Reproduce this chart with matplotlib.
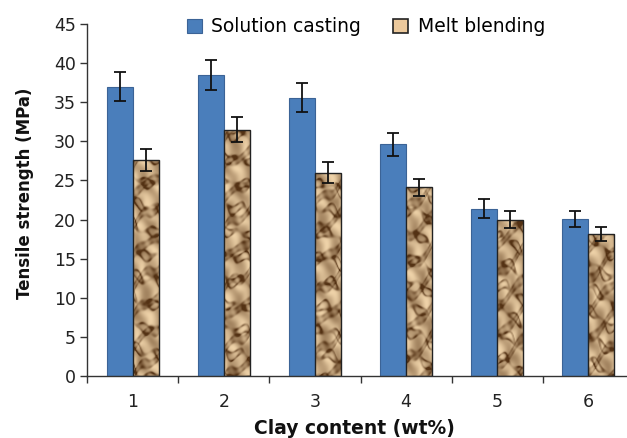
import numpy as np
import matplotlib
matplotlib.use("Agg")
import matplotlib.pyplot as plt
from matplotlib.patches import Patch

# Tensile strength vs clay content for two processing routes
clay_content = [1, 2, 3, 4, 5, 6]
solution_casting = [37.0, 38.5, 35.6, 29.6, 21.4, 20.1]
solution_err = [1.8, 1.9, 1.8, 1.5, 1.2, 1.0]
melt_blending = [27.6, 31.5, 26.0, 24.1, 20.0, 18.1]
melt_err = [1.4, 1.6, 1.3, 1.1, 1.1, 0.9]
y_ticks = [0, 5, 10, 15, 20, 25, 30, 35, 40, 45]

BLUE = "#4a7ebb"
BLUE_EDGE = "#3b6396"
TAN = "#ecc99c"

fig = plt.figure(figsize=(6.27, 4.38), dpi=100)
# axes run slightly past the right border of the figure
ax = fig.add_axes([87 / 627, 62 / 438, 547 / 627, 352 / 438])

x = np.arange(len(clay_content)) + 1.0
w = 0.286

ax.bar(x - w / 2, solution_casting, width=w, color=BLUE, edgecolor=BLUE_EDGE,
       linewidth=0.8, zorder=2)
melt_bars = ax.bar(x + w / 2, melt_blending, width=w, color=TAN,
                   edgecolor="#222222", linewidth=1.0, zorder=2)


def paper_texture(h_units, p):
    """Crumpled-paper shading: broad folds with wavy dark creases."""
    W = 26
    H = max(int(h_units * 7.8), 10)
    yy, xx = np.mgrid[0:H, 0:W].astype(float)
    warp = 3.5 * np.sin(0.19 * xx + 0.9 * p) + 2.0 * np.sin(0.37 * xx - 0.09 * yy + p)
    f1 = np.sin(0.26 * (yy + warp) + 0.12 * xx + p) + 0.5 * np.sin(0.09 * yy - 0.25 * xx + 2 * p)
    f2 = np.sin(0.21 * (yy - warp) - 0.18 * xx + 1.7 + p)
    crease = np.exp(-((f1 - 0.9) ** 2) / 0.10) + 0.7 * np.exp(-((f2 - 0.8) ** 2) / 0.08)
    crease *= 0.5 + 0.5 * np.sin(0.15 * yy + 0.4 * xx + 3 * p) ** 2
    folds = np.sin(0.17 * yy + 0.3 * xx + 0.7 * f2 + p)
    shade = 0.74 + 0.16 * folds - 0.08 * np.cos(0.11 * yy - 0.2 * xx + 2 * p)
    v = np.clip(shade - 0.7 * crease, 0, 1)
    light = np.array([242, 214, 172]) / 255.0
    dark = np.array([84, 50, 20]) / 255.0
    return dark + (light - dark) * v[..., None]


for i, bar in enumerate(melt_bars):
    x0 = bar.get_x()
    x1 = x0 + bar.get_width()
    h = bar.get_height()
    im = ax.imshow(paper_texture(h, 0.9 * i), extent=[x0, x1, 0, h], aspect="auto",
                   origin="lower", zorder=2.5, interpolation="bilinear")
    im.set_clip_path(bar)
    bar.set_zorder(3)
    bar.set_facecolor("none")

ax.errorbar(x - w / 2, solution_casting, yerr=solution_err, fmt="none",
            ecolor="#111111", elinewidth=1.3, capsize=4, capthick=1.3, zorder=4)
ax.errorbar(x + w / 2, melt_blending, yerr=melt_err, fmt="none",
            ecolor="#111111", elinewidth=1.3, capsize=4, capthick=1.3, zorder=4)

ax.set_xlim(0.5, 6.5)
ax.set_ylim(0, 45)
ax.set_yticks(y_ticks)
ax.set_xticks(x)
ax.set_xticklabels([str(c) for c in clay_content])
ax.set_xticks(np.arange(0.5, 7.0, 1.0), minor=True)
ax.tick_params(axis="x", which="major", length=0, pad=12, labelsize=12.5,
               labelcolor="#222222")
ax.tick_params(axis="x", which="minor", length=5, width=1, color="#333333")
ax.tick_params(axis="y", length=5, width=1, color="#333333", labelsize=12.5,
               labelcolor="#222222", pad=3)

for s in ["top", "right"]:
    ax.spines[s].set_visible(False)
for s in ["left", "bottom"]:
    ax.spines[s].set_color("#333333")
    ax.spines[s].set_linewidth(1.0)

fig.text(25 / 627, 1 - 193 / 438, "Tensile strength (MPa)", fontsize=12,
         fontweight="bold", color="#111111", ha="center", va="center",
         rotation=90)
fig.text(354 / 627, 1 - 429 / 438, "Clay content (wt%)", fontsize=13.5,
         fontweight="bold", color="#111111", ha="center", va="center")

handles = [Patch(facecolor=BLUE, edgecolor=BLUE_EDGE, linewidth=0.8),
           Patch(facecolor=TAN, edgecolor="#222222", linewidth=1.2)]
fig.legend(handles, ["Solution casting", "Melt blending"], ncol=2,
           loc="center", bbox_to_anchor=(366 / 627, 1 - 27 / 438),
           frameon=False, fontsize=13.5, handlelength=0.8, handleheight=0.8,
           handletextpad=0.5, columnspacing=1.7)

fig.savefig("out.png", dpi=100)
